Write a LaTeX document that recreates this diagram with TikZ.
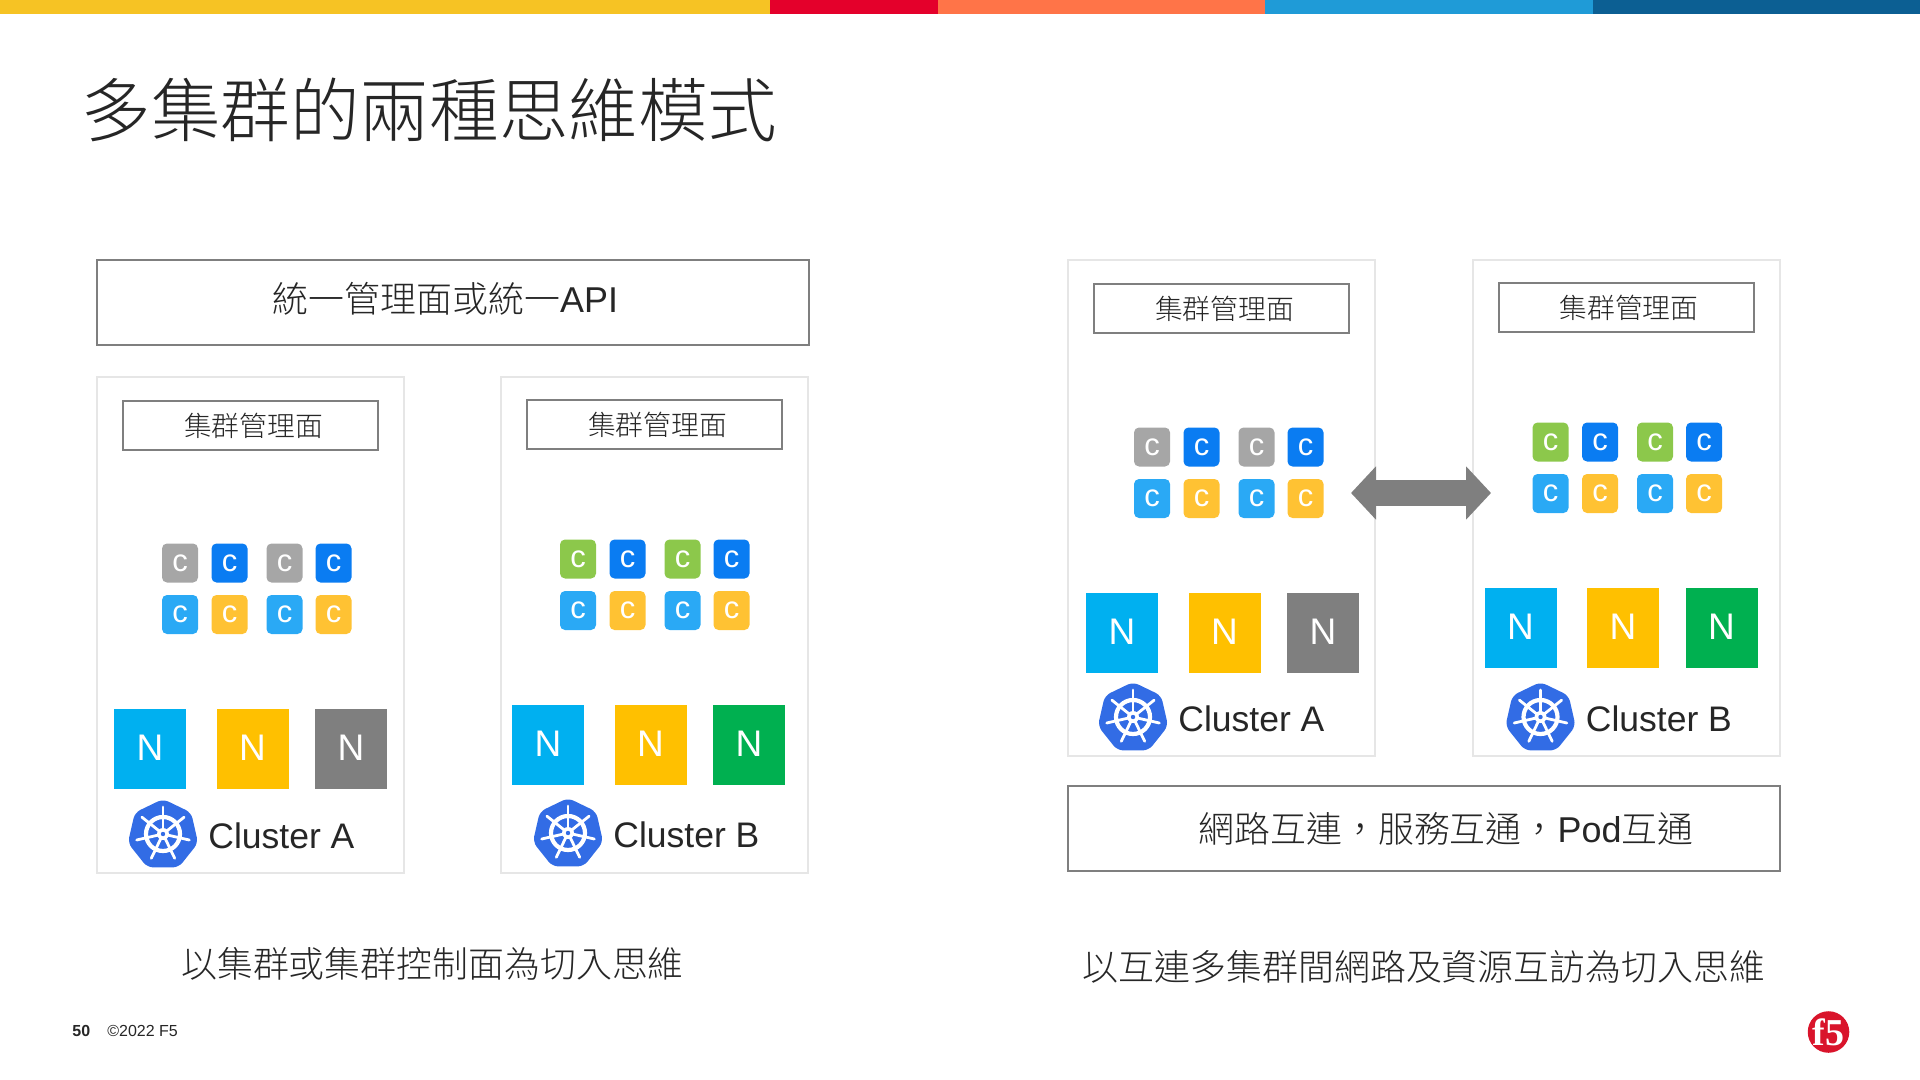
\documentclass[tikz,border=0pt]{standalone}
\usepackage{fontspec}
\usepackage{xcolor}
\usetikzlibrary{arrows.meta}
\setmainfont{Liberation Sans}
\newfontfamily\cjk{Noto Sans CJK TC Light}
\newfontfamily\seriffont{Liberation Serif}

\definecolor{txtdark}{HTML}{262626}
\definecolor{bargold}{HTML}{F6C324}
\definecolor{barred}{HTML}{E4002B}
\definecolor{barorange}{HTML}{FF7448}
\definecolor{barblue}{HTML}{1F9BD7}
\definecolor{barnavy}{HTML}{0C5F93}
\definecolor{panelline}{HTML}{E6E6E6}
\definecolor{boxline}{HTML}{7F7F7F}
\definecolor{cgray}{HTML}{A6A6A6}
\definecolor{cblue}{HTML}{0A7CF2}
\definecolor{csky}{HTML}{2AA9F5}
\definecolor{camber}{HTML}{FFC233}
\definecolor{cgreen}{HTML}{8CC84B}
\definecolor{nsky}{HTML}{00B0F0}
\definecolor{namber}{HTML}{FFC000}
\definecolor{ngray}{HTML}{7F7F7F}
\definecolor{ngreen}{HTML}{00B050}
\definecolor{kubeblue}{HTML}{326CE5}
\definecolor{fivered}{HTML}{D9142B}

\tikzset{
	wholebox/.style={draw=boxline,line width=1pt,minimum width=356pt,minimum height=42.5pt,inner sep=0pt},
	panelbox/.style={draw=panelline,line width=1pt,minimum width=153.5pt,minimum height=248pt,inner sep=0pt},
	mgmtbox/.style={draw=boxline,line width=1pt,minimum width=127.5pt,minimum height=24.5pt,inner sep=0pt,
		text=txtdark,font=\cjk\fontsize{13.9}{14}\selectfont},
	ctile/.style={rounded corners=2.5pt,minimum width=18pt,minimum height=19.5pt,inner sep=0pt,
		text=white,font=\fontsize{15.5}{15.5}\selectfont},
	ntile/.style={minimum width=36pt,minimum height=40pt,inner sep=0pt,
		text=white,font=\fontsize{18.5}{18.5}\selectfont},
	bigtext/.style={text=txtdark,inner sep=0pt,font=\cjk\fontsize{17.95}{18}\selectfont},
	clustertext/.style={text=txtdark,inner sep=0pt,anchor=base west,font=\fontsize{17.75}{18}\selectfont},
	kubelogo/.pic={
		\fill[kubeblue,rounded corners=3pt] (-90:36)
			\foreach \i in {1,...,6} {-- (-90+\i*51.43:36)} -- cycle;
		\draw[white,line width=2.1pt] (0,-1) circle (17);
		\foreach \i in {0,...,6}
			{\draw[white,line width=1.4pt,line cap=round] (0,-1) ++(-90+\i*51.43:4) -- ++(-90+\i*51.43:23);}
		\fill[white] (0,-1) circle (6);
		\fill[kubeblue] (0,-1) circle (2.2);
	},
}

\begin{document}
\begin{tikzpicture}[x=0.5pt,y=-0.5pt]
	\useasboundingbox (0,0) rectangle (1920,1080);
	% colour strip at the top
	\foreach \xa/\xb/\couleur in {0/770/bargold,770/938/barred,938/1265/barorange,1265/1593/barblue,1593/1920/barnavy}
		{\fill[\couleur] (\xa,0) rectangle (\xb,14);}
	\node[anchor=west,text=txtdark,inner sep=0pt,font=\cjk\fontsize{34.8}{35}\selectfont] (title) at (81,110) {多集群的兩種思維模式};
	% the four clusters
	\foreach \nom/\px/\py/\tdx/\tdy/\ldx/\ldy/\mdy/\titre/\cun/\ntrois in
	{lefta/97/377/0/0/0/0/0/{Cluster A}/cgray/ngray,
	leftb/501/377/-6/-4/1/-1/-1/{Cluster B}/cgreen/ngreen,
	righta/1068/260/1/1/-1/0/0/{Cluster A}/cgray/ngray,
	rightb/1472.5/260/-5/-4/2/0/-1/{Cluster B}/cgreen/ngreen}
	{
		\begin{scope}[shift={(\px,\py)}]
			\node[panelbox] (\nom-panel) at (153.5,248) {};
			\node[mgmtbox] (\nom-mgmt) at (153.5,48.5+\mdy) {\hspace*{3pt}集群管理面};
			\foreach \i/\tx/\coul in {1/83/\cun,2/132.5/cblue,3/187.5/\cun,4/236.5/cblue}
				{\node[ctile,fill=\coul] (\nom-ca\i) at (\tx+\tdx,186+\tdy) {c};}
			\foreach \i/\tx/\coul in {1/83/csky,2/132.5/camber,3/187.5/csky,4/236.5/camber}
				{\node[ctile,fill=\coul] (\nom-cb\i) at (\tx+\tdx,237.5+\tdy) {c};}
			\foreach \i/\tx/\coul in {1/53/nsky,2/155.5/namber,3/254/\ntrois}
				{\node[ntile,fill=\coul] (\nom-n\i) at (\tx+\tdx,372+\tdy) {\raisebox{0.8pt}{N}};}
			\pic at (66+\ldx,458+\ldy) {kubelogo};
			\node[clustertext] (\nom-label) at (111+\ldx,471+\ldy) {\titre};
		\end{scope}
	}
	% bands and captions
	\node[wholebox,minimum height=42.5pt] (unified) at (452.5,302.5) {};
	\node[bigtext] (unifiedtext) at (445.5,299) {統一管理面或統一{\rmfamily API}};
	\node[wholebox] (network) at (1424,828.5) {};
	\node[bigtext] (networktext) at (1446,829) {網路互連，服務互通，{\rmfamily Pod}互通};
	\node[bigtext] (captionleft) at (432.5,964) {以集群或集群控制面為切入思維};
	\node[bigtext] (captionright) at (1424,967) {以互連多集群間網路及資源互訪為切入思維};
	% the double arrow between the two clusters on the right
	\coordinate (linkleft) at (1351,493);
	\coordinate (linkright) at (1491,493);
	\draw[boxline,line width=13pt,{Triangle[length=12.5pt,width=26pt]}-{Triangle[length=12.5pt,width=26pt]}] (linkleft) -- (linkright);
	% footer
	\node[anchor=west,inner sep=0pt,text=txtdark,font=\bfseries\fontsize{8}{8}\selectfont] (pagenum) at (72,1031) {50};
	\node[anchor=west,inner sep=0pt,text=txtdark,font=\fontsize{8}{8}\selectfont] (copyright) at (107,1031) {©2022 F5};
	\node[circle,fill=fivered,minimum size=19.5pt,inner sep=0pt,text=white,font=\seriffont\bfseries\fontsize{19}{19}\selectfont] (fivelogo) at (1828.5,1032) {f5};
\end{tikzpicture}
\end{document}
